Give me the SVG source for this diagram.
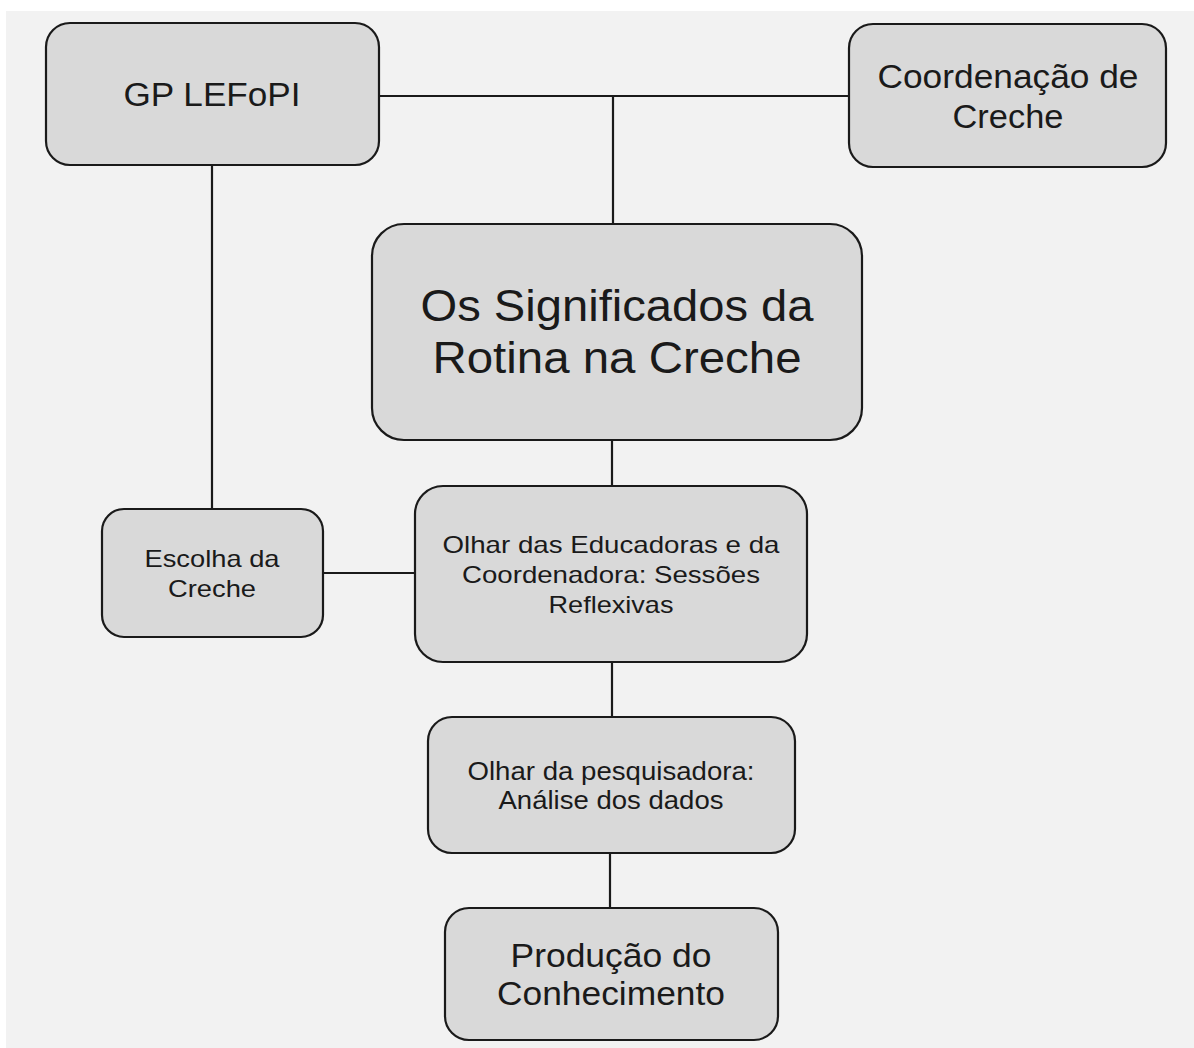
<svg xmlns="http://www.w3.org/2000/svg" width="1194" height="1048" viewBox="0 0 1194 1048">
<style>
.node rect{fill:#d9d9d9;stroke:#1a1a1a;stroke-width:2.2}
.node text{font-family:"Liberation Sans",Arial,sans-serif;fill:#1a1a1a;text-anchor:middle}
#connectors line{stroke:#1a1a1a;stroke-width:2.2}
</style>
<rect x="0" y="0" width="1194" height="1048" fill="#ffffff"/>
<rect x="6" y="11" width="1188" height="1037" fill="#f2f2f2"/>
<g id="connectors">
<line x1="379" y1="96" x2="849" y2="96"/>
<line x1="613" y1="96" x2="613" y2="224"/>
<line x1="212" y1="165" x2="212" y2="509"/>
<line x1="612" y1="440" x2="612" y2="486"/>
<line x1="323" y1="573" x2="416" y2="573"/>
<line x1="612" y1="662" x2="612" y2="717"/>
<line x1="610" y1="853" x2="610" y2="908"/>
</g>
<g id="gp" class="node">
<rect x="46" y="23" width="333" height="142" rx="24"/>
<text x="212" y="106" font-size="34" textLength="177" lengthAdjust="spacingAndGlyphs">GP LEFoPI</text>
</g>
<g id="coord" class="node">
<rect x="849" y="24" width="317" height="143" rx="24"/>
<text x="1008" y="88" font-size="33" textLength="261" lengthAdjust="spacingAndGlyphs">Coordenação de</text>
<text x="1008" y="128" font-size="33" textLength="111" lengthAdjust="spacingAndGlyphs">Creche</text>
</g>
<g id="main" class="node">
<rect x="372" y="224" width="490" height="216" rx="32"/>
<text x="617" y="321" font-size="45" textLength="393" lengthAdjust="spacingAndGlyphs">Os Significados da</text>
<text x="617" y="373" font-size="45" textLength="369" lengthAdjust="spacingAndGlyphs">Rotina na Creche</text>
</g>
<g id="escolha" class="node">
<rect x="102" y="509" width="221" height="128" rx="22"/>
<text x="212" y="567" font-size="24" textLength="135" lengthAdjust="spacingAndGlyphs">Escolha da</text>
<text x="212" y="597" font-size="24" textLength="88" lengthAdjust="spacingAndGlyphs">Creche</text>
</g>
<g id="olhar-educadoras" class="node">
<rect x="415" y="486" width="392" height="176" rx="28"/>
<text x="611" y="553" font-size="24" textLength="337" lengthAdjust="spacingAndGlyphs">Olhar das Educadoras e da</text>
<text x="611" y="583" font-size="24" textLength="298" lengthAdjust="spacingAndGlyphs">Coordenadora: Sessões</text>
<text x="611" y="613" font-size="24" textLength="125" lengthAdjust="spacingAndGlyphs">Reflexivas</text>
</g>
<g id="olhar-pesquisadora" class="node">
<rect x="428" y="717" width="367" height="136" rx="24"/>
<text x="611" y="780" font-size="26" textLength="287" lengthAdjust="spacingAndGlyphs">Olhar da pesquisadora:</text>
<text x="611" y="809" font-size="26" textLength="225" lengthAdjust="spacingAndGlyphs">Análise dos dados</text>
</g>
<g id="producao" class="node">
<rect x="445" y="908" width="333" height="132" rx="24"/>
<text x="611" y="967" font-size="33" textLength="201" lengthAdjust="spacingAndGlyphs">Produção do</text>
<text x="611" y="1005" font-size="33" textLength="228" lengthAdjust="spacingAndGlyphs">Conhecimento</text>
</g>
</svg>
